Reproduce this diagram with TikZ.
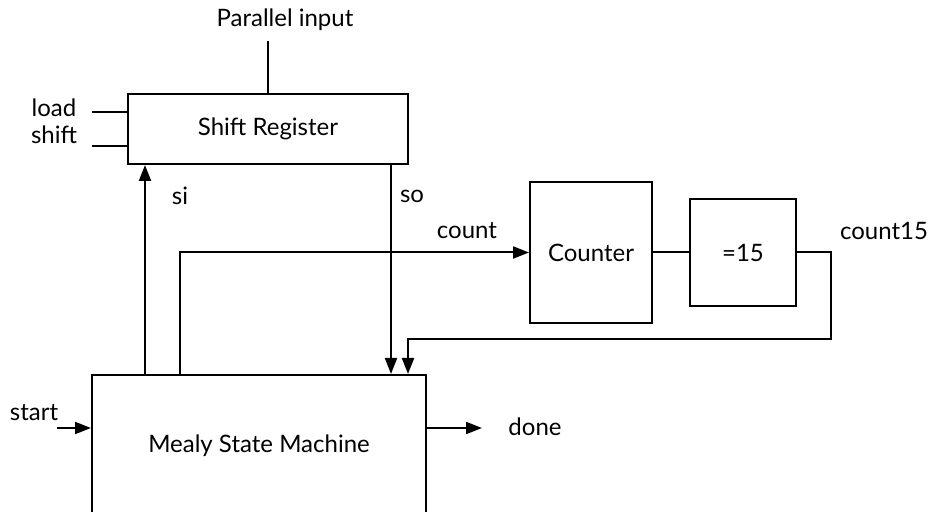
\documentclass[tikz,border=0pt]{standalone}
\usepackage{fontspec}
\setmainfont{Lato}
\usetikzlibrary{arrows.meta,positioning}

\begin{document}
\begin{tikzpicture}[x=0.5pt, y=-0.5pt,
  every node/.style={font=\fontsize{12}{14}\selectfont},
  box/.style={draw, line width=1pt, inner sep=0pt},
  wire/.style={line width=1pt},
  arr/.style={-{Triangle[length=8pt,width=6pt]}, line width=1pt}
]
\clip (0,0) rectangle (935,512);

\node[box, minimum width=140pt, minimum height=35pt]   (sr)  at (268,129)   {Shift Register};
\node[box, minimum width=61pt,  minimum height=70.5pt] (cnt) at (591,252.5) {Counter};
\node[box, minimum width=53pt,  minimum height=53.5pt] (eq)  at (743,252.5) {=15};
\node[box, minimum width=167pt, minimum height=71pt]   (msm) at (259,446)   {Mealy State Machine};

\node (pinl) at (285,20)  {Parallel input};
\node (ldl)  at (54,108)  {load};
\node (shl)  at (54,135)  {shift};
\node (sil)  at (180,196) {si};
\node (sol)  at (412,196) {so};
\node (cntl) at (467,231) {count};
\node (c15l) at (884,231) {count15};
\node (stl)  at (34,413)  {start};
\node (dnl)  at (535,427) {done};

\coordinate (pin) at (268,41);
\coordinate (ld)  at (92,112);
\coordinate (sh)  at (92,146);
\coordinate (si)  at (145,0);
\coordinate (so)  at (391,0);
\coordinate (cn)  at (180,252);
\coordinate (c15) at (831,339);
\coordinate (fb)  at (408,339);
\coordinate (st)  at (57,428);
\coordinate (dn)  at (482,428);

\draw[wire] (pin) -- (sr.north);
\draw[wire] (ld) -- (ld -| sr.west);
\draw[wire] (sh) -- (sh -| sr.west);
\draw[arr] (msm.north -| si) -- (sr.south -| si);
\draw[arr] (sr.south -| so) -- (msm.north -| so);
\draw[arr] (msm.north -| cn) |- (cnt.west);
\draw[wire] (cnt) -- (eq);
\draw[arr] (eq.east) -| (c15) -- (fb) -- (msm.north -| fb);
\draw[arr] (st) -- (st -| msm.west);
\draw[arr] (msm.east |- dn) -- (dn);
\end{tikzpicture}
\end{document}
